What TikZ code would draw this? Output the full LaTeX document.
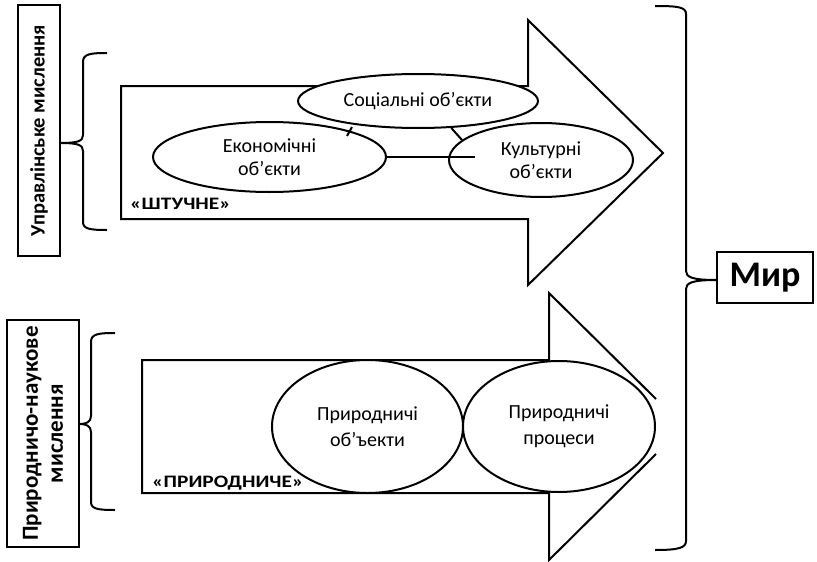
\documentclass[tikz,border=0pt]{standalone}
\usepackage{fontspec}
\setmainfont{Carlito}
\usetikzlibrary{shapes.geometric}
\tikzset{
  ln/.style={line width=2pt, line join=miter},
  oval/.style={ellipse, draw, ln, fill=white, inner sep=0pt, align=center,
    font=\fontsize{20}{23}\selectfont},
  ovalb/.style={oval, font=\fontsize{20}{26}\selectfont},
  lbl/.style={draw, ln, inner sep=0pt, align=center},
  tag/.style={inner sep=0pt, anchor=base west, font=\bfseries\fontsize{17.5}{20}\selectfont}
}
\begin{document}
\begin{tikzpicture}[x=1pt,y=-1pt]
\useasboundingbox (0,0) rectangle (817,562);
% top arrow
\draw[ln] (121,86) -- (528,86) -- (528,20) -- (663,153) -- (528,285) -- (528,219) -- (121,219) -- cycle;
% bottom arrow (clipped head)
\draw[ln] (656,399) -- (549,293) -- (549,360) -- (142,360) -- (142,493) -- (549,493) -- (549,560) -- (656,454);
% top ellipses
\node[oval, minimum width=240pt, minimum height=54pt] (soc) at (418,101) {Соціальні об’єкти};
\node[oval, minimum width=233pt, minimum height=70pt] (eco) at (269.5,157) {Економічні\\об’єкти};
\node[oval, minimum width=184pt, minimum height=74pt] (cul) at (541,160) {Культурні\\об’єкти};
\coordinate (c1) at (475,157);
\coordinate (c2) at (462,140);
\coordinate (t1) at (347,136);
\coordinate (t2) at (352,127);
\draw[ln] (eco.east) -- (c1);
\draw[ln] (soc.-39) -- (c2);
\draw[ln] (t1) -- (t2);
% bottom ellipses
\node[ovalb, minimum width=191pt, minimum height=133pt] (nob) at (367.5,426.5) {Природничі\\об’ъекти};
\node[ovalb, minimum width=192pt, minimum height=131pt] (npr) at (559,426.5) {Природничі\\процеси};
% tags
\node[tag] (sht) at (130,209) {\scalebox{1.22}[1]{«ШТУЧНЕ»}};
\node[tag] (prt) at (152,487) {\scalebox{1.22}[1]{«ПРИРОДНИЧЕ»}};
% left boxes
\node[lbl, rotate=90, minimum width=251pt, minimum height=42pt,
  font=\bfseries\fontsize{20.5}{24}\selectfont] (upr) at (39,130.5) {Управлінське мислення};
\node[lbl, rotate=90, minimum width=227pt, minimum height=72pt,
  font=\bfseries\fontsize{23}{25}\selectfont] (prn) at (43,433.5) {Природничо-наукове\\мислення};
% Mir
\node[lbl, minimum width=96pt, minimum height=51pt, font=\bfseries\fontsize{36}{40}\selectfont] (mir) at (765,277.5) {Мир};
% left top brace
\coordinate (b1t) at (107,53);
\coordinate (b1b) at (107,230);
\draw[ln] (b1t) .. controls (90,53) and (83,54) .. (83,62) -- (83,135) .. controls (83,141) and (78,143) .. (upr.south |- 0,143);
\draw[ln] (upr.south |- 0,143) .. controls (78,143) and (83,145) .. (83,151) -- (83,222) .. controls (83,229) and (90,230) .. (b1b);
% left bottom brace
\coordinate (b2t) at (115,333);
\coordinate (b2b) at (115,510);
\draw[ln] (b2t) .. controls (98,333) and (91,334) .. (91,342) -- (91,416) .. controls (91,422) and (86,424) .. (prn.south |- 0,424);
\draw[ln] (prn.south |- 0,424) .. controls (86,424) and (91,426) .. (91,432) -- (91,502) .. controls (91,509) and (98,510) .. (b2b);
% right brace
\coordinate (b3t) at (655,6);
\coordinate (b3b) at (655,550);
\draw[ln] (b3t) .. controls (678,6) and (686,7) .. (686,14) -- (686,271) .. controls (686,277) and (692,280) .. (mir.west |- 0,280);
\draw[ln] (mir.west |- 0,280) .. controls (692,280) and (686,283) .. (686,289) -- (686,541) .. controls (686,548) and (678,550) .. (b3b);
\end{tikzpicture}
\end{document}
